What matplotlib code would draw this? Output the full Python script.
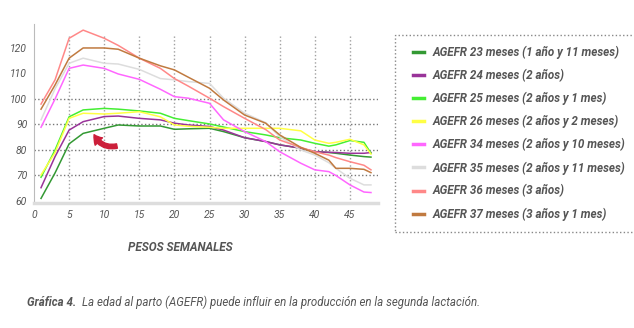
import matplotlib
matplotlib.use("Agg")
import matplotlib.pyplot as plt
from matplotlib.patches import Rectangle, FancyArrowPatch

# =============================================================================
# Data (weekly weights per AGEFR group)
# =============================================================================

weeks = [1, 3, 5, 7, 10, 12, 15, 18, 20, 22, 25, 27, 30, 33, 35, 38, 40, 42, 43, 45, 47, 48]

agefr_23 = [61, 71, 82.4, 86.5, 88.5, 89.8, 89.4, 89.4, 88.1, 88.3, 88.5, 87.2, 84.8, 83.3, 82, 80.7, 79.3, 79, 78.7, 78, 77.4, 77.2]
agefr_24 = [65.2, 77.4, 87.8, 91.1, 93.1, 93.3, 92.4, 91.8, 90.5, 89.8, 89.2, 87.8, 84.8, 83.3, 82, 80.7, 79.3, 79.1, 79, 78.7, 78.7, 79]
agefr_25 = [69.3, 80, 93, 95.7, 96.3, 96, 95.3, 94.4, 92.4, 91.5, 90.2, 89, 87.2, 85.9, 84.8, 83.9, 82.6, 81.5, 82, 83.7, 83, 78.7]
agefr_26 = [70.2, 79, 92.4, 94.4, 94.1, 94.4, 95, 93, 89.8, 89.3, 88.9, 88.5, 88.5, 88.5, 88.5, 87.5, 83.9, 82.6, 83, 84.2, 82, 78.4]
agefr_34 = [88.9, 100, 112, 113.3, 112, 109.8, 107.7, 103.8, 100.9, 100.3, 98.3, 91.8, 87.2, 83.3, 79.3, 74.8, 72.2, 71.5, 70, 66.3, 63.5, 63.3]
agefr_35 = [91.8, 104, 114, 116, 114, 113.7, 111.6, 108, 107.5, 106.8, 106.1, 100.3, 94.4, 90.7, 85.2, 80, 78, 75, 72.8, 68.9, 66.3, 66.3]
agefr_36 = [98, 107.5, 123.8, 127, 123.8, 121, 116, 112, 108, 105, 100.3, 97, 92.4, 88, 83.9, 81, 79.3, 78, 77, 75.4, 74, 72.2]
agefr_37 = [96, 105.5, 116, 120, 120, 119.5, 116, 113, 111.4, 108.5, 104.2, 99.6, 93.7, 90.5, 85.9, 81, 78.7, 76, 72.8, 72.8, 72.4, 71.1]

labels = ["AGEFR 23 meses (1 año y 11 meses)",
          "AGEFR 24 meses (2 años)",
          "AGEFR 25 meses (2 años y 1 mes)",
          "AGEFR 26 meses (2 años y 2 meses)",
          "AGEFR 34 meses (2 años y 10 meses)",
          "AGEFR 35 meses (2 años y 11 meses)",
          "AGEFR 36 meses (3 años)",
          "AGEFR 37 meses (3 años y 1 mes)"]
series = [agefr_23, agefr_24, agefr_25, agefr_26, agefr_34, agefr_35, agefr_36, agefr_37]
colors = ['#339933', '#993399', '#44ee33', '#ffff44', '#ff66ff', '#dddddd', '#ff8888', '#c07a40']

xticks = [0, 5, 10, 15, 20, 25, 30, 35, 40, 45]
yticks = [60, 70, 80, 90, 100, 110, 120]
grid_y = [70, 80, 90, 100]

# =============================================================================
# Plot
# =============================================================================

plt.rcParams['font.family'] = ['Roboto', 'DejaVu Sans']
txt = '#555555'

fig = plt.figure(figsize=(6.34, 3.28), dpi=100)
fig.set_facecolor('w')
ax1 = fig.add_axes([34/634, 1-203/328, 344/634, 179/328])

for x in xticks[1:]:
    ax1.axvline(x, ymin=0, ymax=0.94, color='#a0a0a0', linestyle=':', linewidth=1, zorder=1)
for y in grid_y:
    ax1.axhline(y, color='#777777', linestyle=':', linewidth=1, zorder=1)

for vals, c, lab in zip(series, colors, labels):
    ax1.plot(weeks, vals, color=c, linewidth=1.1, label=lab, zorder=3)

ax1.set_xlim([0, 49])
ax1.set_ylim([59.2, 129.4])
ax1.set_xticks(xticks)
ax1.set_yticks(yticks)
ax1.tick_params(length=0, labelsize=7.5, labelcolor=txt, pad=5)
for t in ax1.get_xticklabels() + ax1.get_yticklabels():
    t.set_style('italic')
for s in ['top', 'right']:
    ax1.spines[s].set_visible(False)
ax1.spines['left'].set_color('#bbbbbb')
ax1.spines['bottom'].set_color('#dddddd')
ax1.spines['bottom'].set_linewidth(2.5)

ax1.set_xlabel('PESOS SEMANALES', fontsize=8.5, fontweight='bold', style='italic', color=txt)
ax1.xaxis.set_label_coords((180-34)/344, -0.215)

# red curved arrow
arr = FancyArrowPatch((12.2, 81.8), (8.4, 87.0), connectionstyle='arc3,rad=-0.45',
                      arrowstyle='simple,head_width=7.5,head_length=6,tail_width=3.2',
                      color='#cc1f3a', zorder=4)
ax1.add_patch(arr)

# legend box
fig.patches.append(Rectangle((395/634, 1-232/328), 1, 197/328, transform=fig.transFigure,
                             fill=False, edgecolor='#888888', linestyle=':', linewidth=1))
h, l = ax1.get_legend_handles_labels()

# fit legend font so the longest label ends near x=627 px
size = 8.6
renderer = fig.canvas.get_renderer()
for _ in range(3):
    w = max(fig.text(0, 0, s, fontsize=size, fontweight='bold', style='italic').get_window_extent(renderer).width
            for s in labels)
    for t in list(fig.texts):
        t.remove()
    size = size * 193 / w

leg = fig.legend(h, l, loc='upper left', bbox_to_anchor=(402/634, 1-35/328), frameon=False,
                 handlelength=1.0, handletextpad=0.7, labelspacing=0.85,
                 prop={'size': size, 'weight': 'bold', 'style': 'italic'})
for line in leg.get_lines():
    line.set_linewidth(2.5)
for t in leg.get_texts():
    t.set_color(txt)

cap1 = fig.text(27/634, 1-302/328, 'Gráfica 4.', fontsize=8.3, fontweight='bold', style='italic', color=txt, va='center')
fig.canvas.draw()
bb = cap1.get_window_extent()
fig.text((bb.x1 + 6)/634, 1-302/328, 'La edad al parto (AGEFR) puede influir en la producción en la segunda lactación.',
         fontsize=8.3, style='italic', color=txt, va='center')

plt.savefig('out.png', dpi=100)
